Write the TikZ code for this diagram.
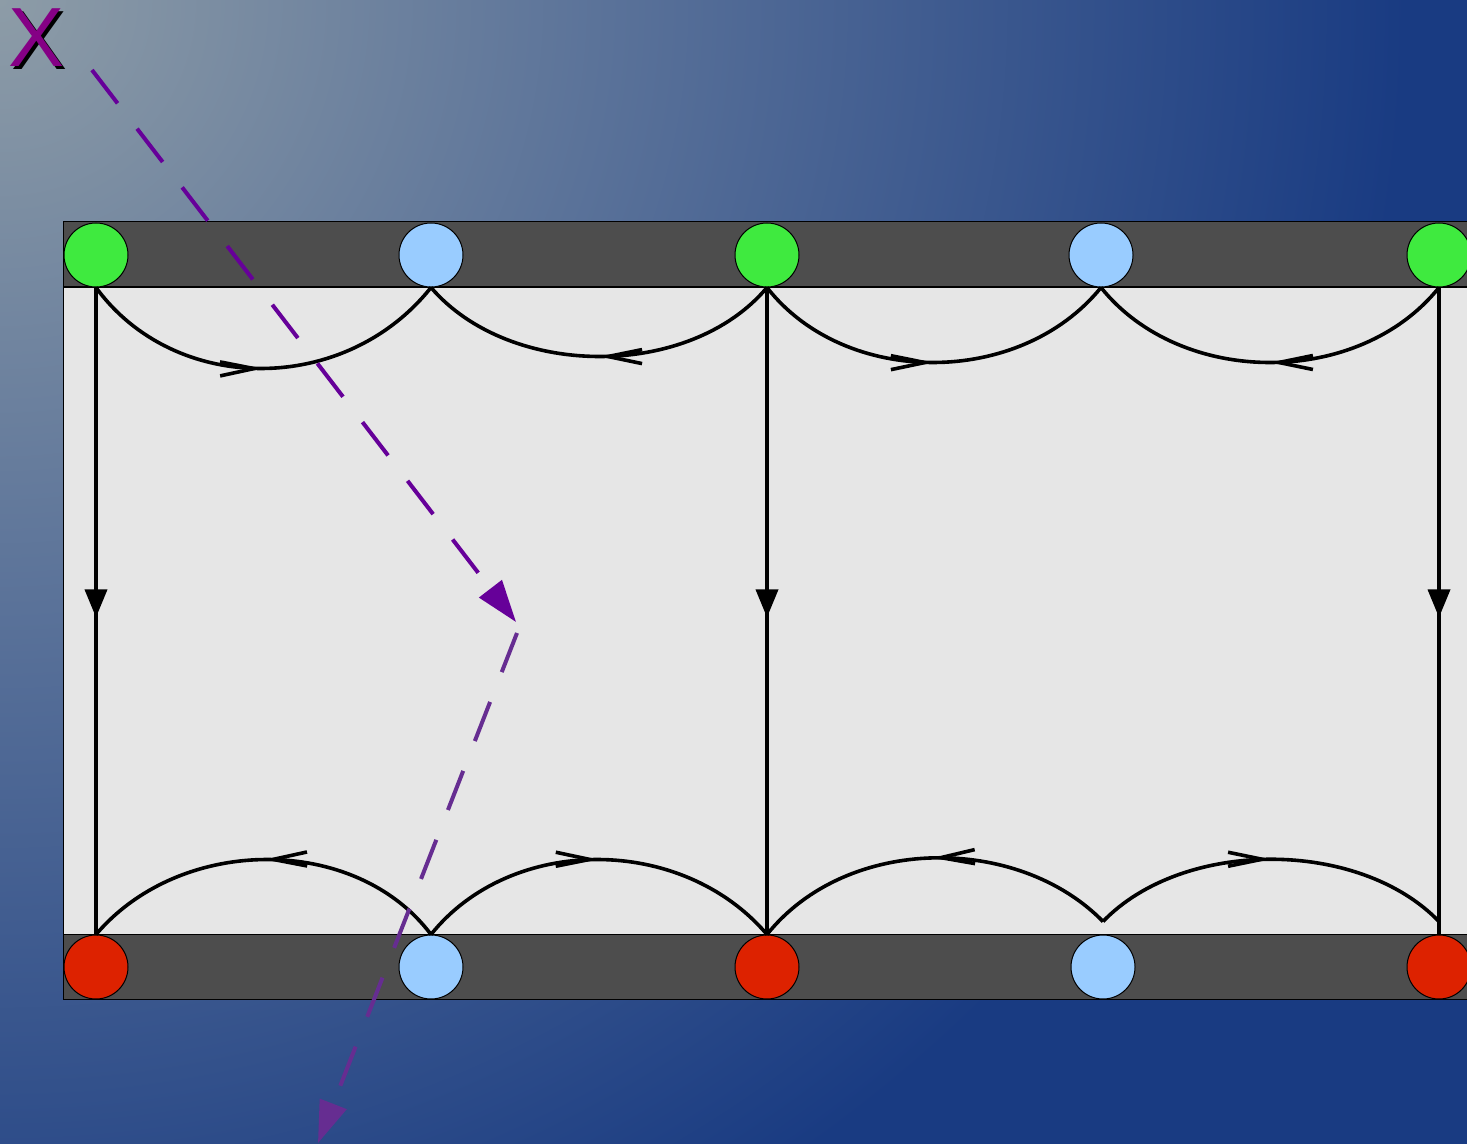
\documentclass[tikz,border=0pt]{standalone}
\usepackage{fontspec}
\setmainfont{Liberation Sans}
\usetikzlibrary{arrows.meta,decorations.markings}
\definecolor{bgA}{HTML}{8D9CA7}
\definecolor{bgM}{HTML}{5A7299}
\definecolor{bgB}{HTML}{193B82}
\definecolor{barcol}{HTML}{4D4D4D}
\definecolor{areacol}{HTML}{E6E6E6}
\definecolor{gcol}{HTML}{3FEA3F}
\definecolor{bcol}{HTML}{99CCFF}
\definecolor{rcol}{HTML}{DD2200}
\definecolor{pA}{HTML}{660099}
\definecolor{pB}{HTML}{662D91}
\definecolor{xcol}{HTML}{850085}
\pgfdeclareradialshading{bgshade}{\pgfpoint{0bp}{0bp}}{color(0bp)=(bgA); color(8bp)=(bgM); color(18.5bp)=(bgB); color(50bp)=(bgB)}
\tikzset{
  bar/.style={fill=barcol, draw=black, line width=0.5pt},
  area/.style={fill=areacol, draw=black, line width=0.4pt},
  dot/.style={circle, draw=black, line width=0.5pt, minimum size=32pt, inner sep=0pt},
  gdot/.style={dot, fill=gcol},
  bdot/.style={dot, fill=bcol},
  rdot/.style={dot, fill=rcol},
  vline/.style={line width=1.8pt, decoration={markings, mark=at position 0.51 with {\arrow{Triangle[length=14pt,width=11pt]}}}, postaction={decorate}},
  fwd/.style={line width=1.8pt, decoration={markings, mark=at position 0.5 with {\arrow{Straight Barb[length=17pt,width=7pt]}}}, postaction={decorate}},
  rev/.style={line width=1.8pt, decoration={markings, mark=at position 0.5 with {\arrowreversed{Straight Barb[length=17pt,width=7pt]}}}, postaction={decorate}},
  pathA/.style={draw=pA, line width=2pt, dash pattern=on 21pt off 16pt, -{Triangle[length=21pt,width=14pt]}},
  pathB/.style={draw=pB, line width=2pt, dash pattern=on 21pt off 16pt, -{Triangle[length=21pt,width=14pt]}},
  xlab/.style={inner sep=0pt, font=\fontsize{42pt}{42pt}\selectfont}
}
\begin{document}
\begin{tikzpicture}[x=0.5pt,y=-0.5pt]
\useasboundingbox (0,0) rectangle (1467,1144);
\begin{scope}
  \clip (0,0) rectangle (1467,1144);
  \shade[shading=bgshade] (0,0) circle[radius=950pt];
  \draw[area] (63,287) rectangle (1490,934);
  \draw[bar] (63,222) rectangle (1490,287);
  \draw[bar] (63,934) rectangle (1490,999);

  % top circles
  \node[gdot] (t1) at (96,255) {};
  \node[bdot] (t2) at (431,255) {};
  \node[gdot] (t3) at (767,255) {};
  \node[bdot] (t4) at (1101,255) {};
  \node[gdot] (t5) at (1439,255) {};
  % bottom circles
  \node[rdot] (b1) at (96,967) {};
  \node[bdot] (b2) at (431,967) {};
  \node[rdot] (b3) at (767,967) {};
  \node[bdot] (b4) at (1103,967) {};
  \node[rdot] (b5) at (1439,967) {};

  % vertical connectors
  \draw[vline] (t1.south) -- (b1.north);
  \draw[vline] (t3.south) -- (b3.north);
  \draw[vline] (t5.south) -- (b5.north);

  % top arcs
  \draw[fwd] (t1.south) .. controls +(79,108) and +(-86,108) .. (t2.south);
  \draw[rev] (t2.south) .. controls +(79,92) and +(-77,92) .. (t3.south);
  \draw[fwd] (t3.south) .. controls +(78,100) and +(-81,100) .. (t4.south);
  \draw[rev] (t4.south) .. controls +(80,100) and +(-80,100) .. (t5.south);

  % bottom arcs
  \draw[rev] (b1.north) .. controls +(85,-100) and +(-75,-100) .. (b2.north);
  \draw[fwd] (b2.north) .. controls +(80,-100) and +(-85,-100) .. (b3.north);
  \draw[rev] (b3.north) .. controls +(80,-100) and +(-85,-87) .. ([yshift=6.5pt]b4.north);
  \draw[fwd] ([yshift=6.5pt]b4.north) .. controls +(80,-83) and +(-80,-83) .. ([yshift=6.5pt]b5.north);
\end{scope}

% X label with shadow
\node[xlab, text=black] (xs) at (40,41) {X};
\node[xlab, text=xcol] (xl) at (37,38) {X};

% dashed purple path
\coordinate (p0) at (92,70);
\coordinate (p1) at (516,622);
\coordinate (p2) at (517,633);
\coordinate (p3) at (318,1143);
\draw[pathA] (p0) -- (p1);
\draw[pathB] (p2) -- (p3);
\end{tikzpicture}
\end{document}
